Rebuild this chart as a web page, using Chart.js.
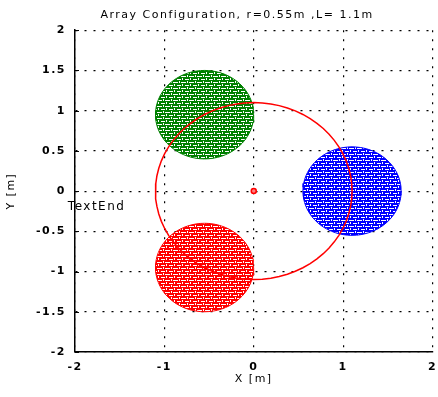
<!DOCTYPE html>
<html>
<head>
<meta charset="utf-8">
<script src="https://cdn.jsdelivr.net/npm/chart.js@4/dist/chart.umd.min.js"></script>
<style>
    body { margin: 0; background: #fff; }
</style>
</head>
<body>
<canvas id="array_plot" width="438" height="397"></canvas>
<script>
// element positions (m) and look
var elementX = [1.1, -0.55, -0.55];
var elementY = [0, 0.95, -0.95];
var elementColors = ["#0000ff", "#008000", "#ff0000"];
var elementRadius = 0.55;
var arrayRadius = 1.1;
var centerPoint = [{ x: 0, y: 0 }];
var xTicks = [-2, -1, 0, 1, 2];
var yTicks = [-2, -1.5, -1, -0.5, 0, 0.5, 1, 1.5, 2];
var titleText = "Array Configuration, r=0.55m ,L= 1.1m";
var noteText = "TextEnd";
var notePos = { x: -2.08, y: -0.19 };

var tickFont = { family: "DejaVu Sans", size: 11, weight: "bold" };

function circlePoints(cx, cy, r) {
    var pts = [];
    for (var i = 0; i <= 72; i++) {
        var a = i * Math.PI * 2 / 72;
        pts.push({ x: cx + r * Math.cos(a), y: cy + r * Math.sin(a) });
    }
    return pts;
}

function hatch(color) {
    var c = document.createElement("canvas");
    c.width = 8;
    c.height = 6;
    var g = c.getContext("2d");
    g.fillStyle = color;
    g.fillRect(0, 0, 8, 6);
    g.fillStyle = "#fff";
    g.fillRect(1, 1, 4, 1);
    g.fillRect(6, 0, 1, 2);
    g.fillRect(3, 3, 1, 2);
    g.fillRect(5, 4, 3, 1);
    g.fillRect(0, 4, 2, 1);
    return g.createPattern(c, "repeat");
}

var datasets = [
    {
        data: circlePoints(0, 0, arrayRadius),
        showLine: true,
        borderColor: "#ff0000",
        borderWidth: 1.5,
        pointRadius: 0,
        fill: false,
    },
    {
        data: centerPoint,
        pointRadius: 2.5,
        borderWidth: 1.5,
        borderColor: "#ff0000",
        backgroundColor: "#ff8080",
    },
];
for (var i = 0; i < elementX.length; i++) {
    datasets.push({
        data: circlePoints(elementX[i], elementY[i], elementRadius),
        showLine: true,
        borderColor: elementColors[i],
        borderWidth: 1,
        backgroundColor: hatch(elementColors[i]),
        pointRadius: 0,
        fill: "shape",
    });
}

// wide letter spacing like the original, title, text label, inward y ticks
var extras = {
    id: "extras",
    beforeLayout: function (chart) { chart.ctx.letterSpacing = "1.5px"; },
    beforeDraw: function (chart) { chart.ctx.letterSpacing = "1.5px"; },
    afterDraw: function (chart) {
        var ctx = chart.ctx;
        var x = chart.scales.x, y = chart.scales.y;
        ctx.save();
        ctx.fillStyle = "#000";
        ctx.textBaseline = "middle";
        ctx.textAlign = "center";
        ctx.font = "11px 'DejaVu Sans'";
        ctx.fillText(titleText, 237, 15);
        ctx.textAlign = "left";
        ctx.font = "12px 'DejaVu Sans'";
        ctx.fillText(noteText, x.getPixelForValue(notePos.x), y.getPixelForValue(notePos.y));
        ctx.strokeStyle = "#000";
        ctx.lineWidth = 1;
        ctx.beginPath();
        yTicks.forEach(function (v) {
            var py = Math.round(y.getPixelForValue(v)) + 0.5;
            ctx.moveTo(x.left, py);
            ctx.lineTo(x.left + 4, py);
        });
        ctx.stroke();
        ctx.restore();
    },
};

function plainLabel(v) { return String(v); }

var chart = new Chart(document.getElementById("array_plot").getContext("2d"), {
    type: "scatter",
    data: { datasets: datasets },
    plugins: [extras],
    options: {
        responsive: false,
        animation: false,
        layout: { padding: { left: 0, right: 0, bottom: 0 } },
        plugins: {
            legend: { display: false },
            tooltip: { enabled: false },
            // space only, the text is drawn by extras
            title: {
                display: true,
                text: titleText,
                color: "rgba(0,0,0,0)",
                font: { family: "DejaVu Sans", size: 11, weight: "normal" },
                padding: { top: 8, bottom: 9 },
            },
        },
        scales: {
            x: {
                min: -2,
                max: 2,
                z: 1,
                afterBuildTicks: function (s) {
                    s.ticks = xTicks.map(function (v) { return { value: v }; });
                },
                afterFit: function (s) {
                    s.height = 45;
                    s.paddingRight = 5;
                },
                ticks: { color: "#000", font: tickFont, padding: 9, callback: plainLabel },
                grid: { color: "#000", lineWidth: 1.2, drawTicks: false },
                border: { display: true, color: "#000", width: 1.5, dash: [2, 7] },
                title: { display: true, text: "X [m]", color: "#000", font: { family: "DejaVu Sans", size: 11 }, padding: { top: 0, bottom: 11 } },
            },
            y: {
                min: -2,
                max: 2,
                z: 1,
                afterBuildTicks: function (s) {
                    s.ticks = yTicks.map(function (v) { return { value: v }; });
                },
                afterFit: function (s) { s.width = 75; },
                ticks: { color: "#000", font: tickFont, padding: 9, callback: plainLabel },
                grid: { color: "#000", lineWidth: 1.2, drawTicks: false },
                border: { display: true, color: "#000", width: 1.5, dash: [2, 7] },
                title: { display: true, text: "Y [m]", color: "#000", font: { family: "DejaVu Sans", size: 11 }, padding: { top: 5, bottom: 0 } },
            },
        },
    },
});
</script>
</body>
</html>
